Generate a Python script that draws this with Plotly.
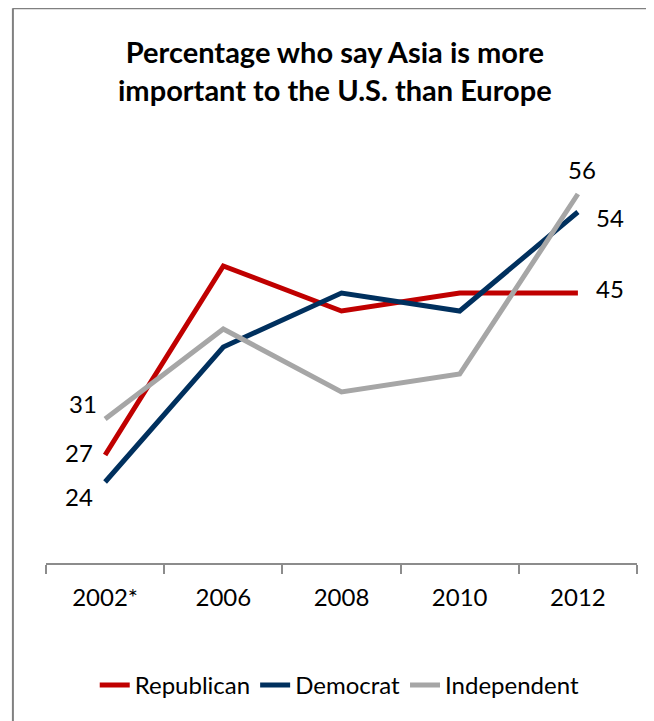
import plotly.graph_objects as go

years = ["2002*", "2006", "2008", "2010", "2012"]
republican = [27, 48, 43, 45, 45]
democrat = [24, 39, 45, 43, 54]
independent = [31, 41, 34, 36, 56]

series = [
    ("Republican", republican, "#C00000"),
    ("Democrat", democrat, "#00305E"),
    ("Independent", independent, "#A6A6A6"),
]

FONT = "Lato"

fig = go.Figure()
for name, vals, color in series:
    fig.add_trace(go.Scatter(
        x=years, y=vals, name=name, mode="lines",
        line=dict(color=color, width=5),
    ))

# value labels: (series values, category index, xshift, yshift)
labels = [
    (independent, 0, -22, 16),
    (republican, 0, -26, 3),
    (democrat, 0, -26, -14),
    (independent, 4, 4, 25),
    (democrat, 4, 32, -5),
    (republican, 4, 32, 5),
]
for vals, i, xs, ys in labels:
    fig.add_annotation(
        x=i, y=vals[i], text=str(vals[i]), showarrow=False,
        xshift=xs, yshift=ys, font=dict(family=FONT, size=24, color="black"),
    )

fig.update_layout(
    width=646, height=713,
    paper_bgcolor="white", plot_bgcolor="white",
    margin=dict(l=38, r=17, t=150, b=158),
    title=dict(
        text="<b>Percentage who say Asia is more<br>important to the U.S. than Europe</b>",
        x=0.506, xanchor="center", y=0.923, yanchor="middle",
        font=dict(family=FONT, size=29, color="black"),
    ),
    font=dict(family=FONT, size=24, color="black"),
    xaxis=dict(
        type="category", range=[-0.5, 4.5], showgrid=False, zeroline=False,
        showline=True, linecolor="#8C8C8C", linewidth=1.5,
        ticks="outside", tickson="boundaries", ticklen=9, tickcolor="#8C8C8C",
        tickwidth=1.5, ticklabelstandoff=12,
        tickfont=dict(family=FONT, size=24, color="black"),
    ),
    yaxis=dict(range=[15, 60], visible=False, showgrid=False, zeroline=False),
    showlegend=True,
    legend=dict(
        orientation="h", x=0.497, xanchor="center", y=-0.302, yanchor="middle",
        font=dict(family=FONT, size=24, color="black"),
        itemwidth=30, tracegroupgap=0,
    ),
    shapes=[
        dict(type="line", xref="paper", yref="paper", x0=-0.056, x1=1.05,
             y0=1.37, y1=1.37, line=dict(color="#808080", width=2)),
        dict(type="line", xref="paper", yref="paper", x0=-0.056, x1=-0.056,
             y0=1.37, y1=-0.45, line=dict(color="#808080", width=2)),
    ],
)

fig.write_html("out.html")
